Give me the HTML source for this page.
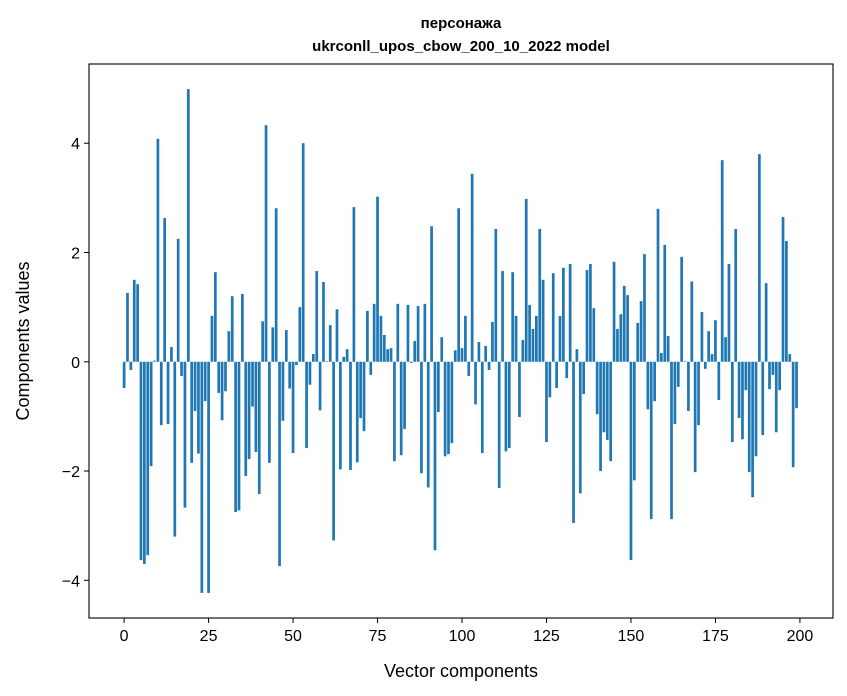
<!DOCTYPE html>
<html><head><meta charset="utf-8">
<style>
body{margin:0;background:#fff;}
svg{display:block;font-family:"Liberation Sans","DejaVu Sans",sans-serif;}
</style></head>
<body>
<svg id="chart" width="847" height="696" viewBox="0 0 847 696">
<text x="461" y="28" text-anchor="middle" font-size="15" font-weight="bold">персонажа</text>
<text x="461" y="51" text-anchor="middle" font-size="15" font-weight="bold">ukrconll_upos_cbow_200_10_2022 model</text>
<g id="bars"></g>
<g id="axes"></g>
<text x="461" y="677" text-anchor="middle" font-size="18">Vector components</text>
<text transform="translate(29,341) rotate(-90)" text-anchor="middle" font-size="18">Components values</text>
</svg>
<script>
const values = [-0.48,1.26,-0.15,1.5,1.42,-3.63,-3.7,-3.54,-1.91,0.02,
4.08,-1.16,2.63,-1.14,0.27,-3.2,2.25,-0.26,-2.67,4.99,
-1.85,-0.9,-1.68,-4.23,-0.72,-4.23,0.84,1.64,-0.57,-1.07,
-0.54,0.56,1.2,-2.75,-2.72,1.24,-2.09,-1.78,-0.82,-1.65,
-2.42,0.74,4.33,-1.85,0.63,2.81,-3.74,-1.08,0.58,-0.49,
-1.67,-0.06,1.0,4.0,-1.58,-0.42,0.14,1.66,-0.89,1.46,
0.01,0.67,-3.27,0.96,-1.97,0.09,0.23,-1.98,2.83,-1.84,
-1.03,-1.27,0.93,-0.24,1.06,3.02,0.84,0.49,0.23,0.25,
-1.82,1.06,-1.71,-1.23,1.04,-0.02,0.38,1.02,-2.04,1.06,
-2.3,2.48,-3.45,-0.92,0.45,-1.73,-1.69,-1.49,0.21,2.81,
0.25,0.84,-0.26,3.44,-0.78,0.36,-1.67,0.29,-0.15,0.73,
2.43,-2.31,1.66,-1.64,-1.58,1.64,0.84,-1.01,0.4,2.98,
1.04,0.6,0.84,2.43,1.5,-1.47,-0.65,1.62,-0.48,0.84,
1.72,-0.3,1.79,-2.95,0.23,-2.41,-0.59,1.68,1.79,0.98,
-0.96,-2.0,-1.29,-1.43,-1.82,1.83,0.6,0.87,1.39,1.22,
-3.63,-2.17,0.71,1.11,1.97,-0.87,-2.88,-0.72,2.8,0.16,
2.14,0.47,-2.88,-1.14,-0.46,1.92,0.01,-0.9,1.47,-2.02,
-1.16,0.91,-0.13,0.56,0.14,0.76,-0.7,3.69,0.45,1.79,
-1.47,2.43,-1.03,-1.42,-0.52,-2.02,-2.48,-1.73,3.8,-1.34,
1.44,-0.5,-0.24,-1.29,-0.52,2.65,2.21,0.14,-1.93,-0.85];
const xTicks = [0,25,50,75,100,125,150,175,200];
const yTicks = [-4,-2,0,2,4];

const NS="http://www.w3.org/2000/svg";
const L=89,R=833,T=64,B=618;
const xMin=-10.39,xMax=209.79,yMin=-4.69,yMax=5.45;
const xs=v=>L+(v-xMin)/(xMax-xMin)*(R-L);
const ys=v=>B-(v-yMin)/(yMax-yMin)*(B-T);
const bars=document.getElementById('bars');
values.forEach((v,i)=>{
  const r=document.createElementNS(NS,'rect');
  const x0=xs(i-0.4),x1=xs(i+0.4);
  const y0=ys(Math.max(v,0)),y1=ys(Math.min(v,0));
  r.setAttribute('x',x0);r.setAttribute('width',x1-x0);
  r.setAttribute('y',y0);r.setAttribute('height',Math.max(y1-y0,0.3));
  r.setAttribute('fill','#1f77b4');
  
  
  bars.appendChild(r);
});
const axes=document.getElementById('axes');
const frame=document.createElementNS(NS,'rect');
frame.setAttribute('x',L);frame.setAttribute('y',T);frame.setAttribute('width',R-L);frame.setAttribute('height',B-T);
frame.setAttribute('fill','none');frame.setAttribute('stroke','#000');frame.setAttribute('stroke-width','1.1');


axes.appendChild(frame);
xTicks.forEach(t=>{
  const x=xs(t);
  const l=document.createElementNS(NS,'line');
  l.setAttribute('x1',x);l.setAttribute('x2',x);l.setAttribute('y1',B);l.setAttribute('y2',B+5);l.setAttribute('stroke','#000');
  
  
  axes.appendChild(l);
  const tx=document.createElementNS(NS,'text');
  tx.setAttribute('x',x);tx.setAttribute('y',B+23);tx.setAttribute('text-anchor','middle');tx.setAttribute('font-size','16');
  tx.textContent=t;
  
  
  axes.appendChild(tx);
});
yTicks.forEach(t=>{
  const y=ys(t);
  const l=document.createElementNS(NS,'line');
  l.setAttribute('x1',L-5);l.setAttribute('x2',L);l.setAttribute('y1',y);l.setAttribute('y2',y);l.setAttribute('stroke','#000');
  
  
  axes.appendChild(l);
  const tx=document.createElementNS(NS,'text');
  tx.setAttribute('x',L-9);tx.setAttribute('y',y+6);tx.setAttribute('text-anchor','end');tx.setAttribute('font-size','16');
  tx.textContent=t<0?'\u2212'+Math.abs(t):String(t);
  
  
  axes.appendChild(tx);
});
</script>
</body></html>
